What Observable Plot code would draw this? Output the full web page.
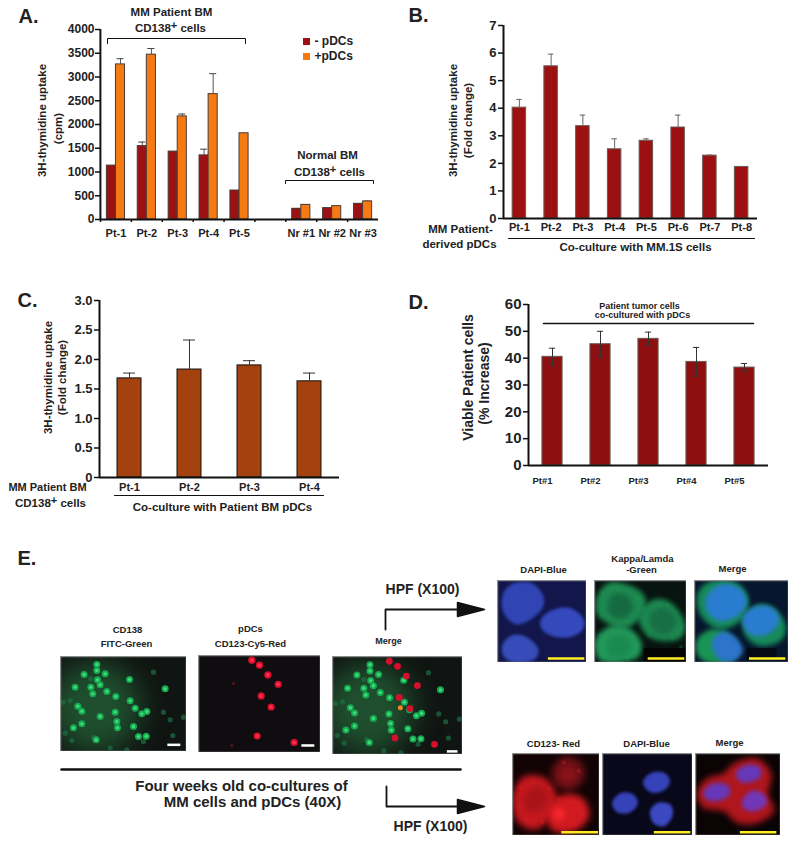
<!DOCTYPE html>
<html><head><meta charset="utf-8">
<script src="https://cdn.jsdelivr.net/npm/d3@7"></script>
<script src="https://cdn.jsdelivr.net/npm/@observablehq/plot@0.6"></script>
<style>
html,body{margin:0;padding:0;background:#fff}
#page{position:relative;width:799px;height:845px;overflow:hidden;font-family:"Liberation Sans",Arial,sans-serif}
</style></head><body><div id="page"></div>
<script>
// ---------- Panel A ----------
const catsA = ["Pt-1","Pt-2","Pt-3","Pt-4","Pt-5"," ","Nr #1","Nr #2","Nr #3"];
const seriesA = ["- pDCs","+pDCs"];
const minusA = [1135,1545,1430,1350,610,null,225,240,330];
const plusA  = [3265,3470,2170,2640,1815,null,308,282,380];
const minusHiA = [1135,1630,1430,1480,610,null,232,240,335];
const plusHiA  = [3385,3600,2220,3070,1815,null,312,285,388];
const ticksA = [0,500,1000,1500,2000,2500,3000,3500,4000];
// ---------- Panel B ----------
const catsB = ["Pt-1","Pt-2","Pt-3","Pt-4","Pt-5","Pt-6","Pt-7","Pt-8"];
const valuesB = [4.02,5.52,3.35,2.51,2.82,3.3,2.28,1.87];
const hiB = [4.32,5.96,3.75,2.89,2.89,3.75,2.3,1.88];
const ticksB = [0,1,2,3,4,5,6,7];
// ---------- Panel C ----------
const catsC = ["Pt-1","Pt-2","Pt-3","Pt-4"];
const valuesC = [1.68,1.83,1.9,1.63];
const hiC = [1.77,2.33,1.98,1.77];
const ticksC = [0,0.5,1,1.5,2,2.5,3];
// ---------- Panel D ----------
const catsD = ["Pt#1","Pt#2","Pt#3","Pt#4","Pt#5"];
const valuesD = [40.5,45.2,47.2,38.6,36.5];
const hiD = [43.7,50,49.7,44,38];
const loD = [37.5,40.5,44.8,33.3,35];
const ticksD = [0,10,20,30,40,50,60];
// ---------- Panel E: cells (image coordinates) ----------
const greenCells = [[290,372],[252,402],[290,390],[315,400],[292,418],[300,433],[225,440],[272,440],[278,460],[320,453],[347,468],[388,417],[390,481],[405,503],[233,497],[245,512],[300,528],[345,515],[350,543],[352,562],[400,558],[220,562],[245,550],[288,598],[425,520],[440,513],[415,588],[438,587],[495,445]];
const faintCells = [[460,395],[490,515],[510,538],[210,480],[195,578],[215,600],[330,622],[380,628],[430,603],[280,590],[190,485],[272,415],[518,585],[550,530]];
const redCells = [[755,360],[778,375],[803,404],[834,432],[783,467],[813,500],[771,587],[882,606]];
const faintRed = [[700,430],[695,615]];
const topN1 = [[70,160],[100,132],[150,130],[185,165],[185,200],[150,235],[105,250],[70,215]];
const topN2 = [[182,240],[215,212],[265,205],[305,235],[305,265],[270,288],[215,285],[185,265]];
const topN3 = [[70,310],[100,286],[135,292],[170,325],[165,352],[125,365],[85,360],[68,340]];
const kapC1 = [[350,170],[385,130],[440,135],[490,170],[485,220],[440,260],[385,250],[350,220]];
const kapC2 = [[475,225],[520,180],[570,190],[610,250],[600,290],[540,300],[495,280]];
const kapC3 = [[350,290],[395,258],[450,270],[480,310],[470,350],[410,365],[360,360],[345,330]];
const kapDark = [[395,165],[440,170],[455,205],[420,235],[385,215]];
const kapDark2 = [[510,225],[550,205],[585,240],[560,280],[520,270]];
const kapDark3 = [[385,300],[425,285],[450,320],[420,350],[385,340]];
const kapSpeck = [[365,160],[410,145],[470,175],[365,225],[445,245],[490,205],[560,195],[600,265],[575,295],[505,285],[360,285],[455,290],[370,345],[440,355],[620,300],[600,320]];
const mrgC1 = [[650,170],[680,130],[760,125],[800,170],[790,230],[720,265],[665,230]];
const mrgC2 = [[790,230],[840,195],[890,215],[915,260],[900,300],[840,315],[800,290]];
const mrgC3 = [[650,300],[690,270],[740,280],[770,330],[750,360],[680,365],[650,340]];
const mrgN1 = [[680,170],[720,135],[775,145],[797,185],[770,225],[715,240],[680,210]];
const mrgN2 = [[790,230],[830,200],[875,205],[895,240],[870,275],[825,285],[795,265]];
const mrgN3 = [[697,300],[725,278],[760,290],[785,330],[760,360],[720,358],[700,330]];
const redR1 = [[100,760],[130,710],[190,712],[225,760],[215,820],[165,865],[115,845],[100,810]];
const redR2 = [[205,800],[245,765],[300,770],[325,815],[305,855],[250,875],[210,860]];
const redR3 = [[215,690],[250,650],[300,665],[310,710],[275,745],[230,735]];
const redCore3 = [[240,695],[265,680],[285,700],[265,720],[245,715]];
const redDark = [[140,760],[170,735],[200,760],[190,800],[150,810],[130,790]];
const redSpeck = [[120,740],[160,725],[205,745],[115,800],[140,835],[185,845],[270,785],[305,820],[285,850],[235,775],[250,665],[295,690]];
const lowN1 = [[490,725],[515,698],[555,700],[567,725],[545,750],[510,752]];
const lowN2 = [[397,785],[425,758],[460,765],[470,790],[445,815],[410,812]];
const lowN3 = [[512,810],[535,788],[570,795],[575,825],[550,855],[520,845]];
const lowRed = [[650,760],[680,715],[730,700],[760,670],[830,655],[870,700],[860,760],[878,810],[830,845],[770,845],[730,810],[670,800]];
const lowM1 = [[768,697],[795,675],[835,680],[838,705],[810,722],[778,720]];
const lowM2 = [[670,755],[700,730],[740,735],[745,760],[715,778],[680,775]];
const lowM3 = [[785,785],[815,752],[850,765],[855,790],[820,810],[795,805]];

// ---------- helpers ----------
const FONT = '"Liberation Sans",Arial,sans-serif';
const INK = "#222";
const page = document.getElementById("page");
function mount(svg, left, top){
  svg.style.position="absolute"; svg.style.left=left+"px"; svg.style.top=top+"px";
  svg.style.maxWidth="none"; svg.style.background="transparent"; svg.style.fontFamily=FONT;
  page.appendChild(svg);
}
const fmtInt = d=>String(d);
const fmtOne = d=>d===0?"0":d.toFixed(1);

// ---- Panel A: grouped bars ----
const rowsA = catsA.flatMap((c,i)=> minusA[i]==null?[]:[
  {cat:c,s:seriesA[0],v:minusA[i],hi:minusHiA[i]},
  {cat:c,s:seriesA[1],v:plusA[i],hi:plusHiA[i]}]);
const errA = rowsA.filter(r=>r.hi-r.v>3);
mount(Plot.plot({
  width:338,height:221,marginLeft:40,marginRight:20,marginTop:10,marginBottom:21,
  fx:{domain:catsA,padding:0,round:false,label:null},
  x:{domain:seriesA,paddingInner:0,paddingOuter:0.7,round:false,axis:null},
  y:{domain:[0,4000],label:null},
  color:{domain:seriesA,range:["#9c1214","#f67a14"]},
  marks:[
    Plot.ruleX(errA,{fx:"cat",x:"s",y1:"v",y2:"hi",stroke:"#555",strokeWidth:1}),
    Plot.tickY(errA,{fx:"cat",x:"s",y:"hi",stroke:"#444",strokeWidth:1,insetLeft:1,insetRight:1}),
    Plot.barY(rowsA,{fx:"cat",x:"s",y:"v",fill:"s",stroke:"#4a3a34",strokeWidth:1}),
    Plot.ruleY(catsA,{fx:d=>d,y:()=>0,stroke:"#111",strokeWidth:2}),
    Plot.axisFx({anchor:"bottom",text:null,tickSize:3,dx:-15.45,stroke:"#111",strokeWidth:1.5}),
    Plot.axisFx({anchor:"bottom",tickSize:0,tickPadding:10,fontSize:11,fontWeight:"bold",fill:INK,label:null}),
    Plot.ruleX(["Pt-1"],{fx:d=>d,x:()=>seriesA[0],y1:0,y2:4000,dx:-11,stroke:"#111",strokeWidth:2}),
    Plot.axisY({facetAnchor:"left",ticks:ticksA,tickSize:5,tickPadding:1,fontSize:12,fontWeight:"bold",fill:INK,tickFormat:fmtInt,label:null,stroke:"#111",strokeWidth:1.5})
  ]
}),60,19);

// ---- Panels B, C, D: simple bars ----
function bars(o){
  const rows=o.cats.map((c,i)=>({c,v:o.values[i],hi:o.hi[i],lo:o.lo?o.lo[i]:o.values[i]}));
  const err=rows.filter(r=>r.hi-r.v>0.02);
  return Plot.plot({
    width:o.w+o.ml+20,height:o.h+10+o.mb,marginLeft:o.ml,marginRight:20,marginTop:10,marginBottom:o.mb,
    x:{domain:o.cats,paddingInner:o.padding,paddingOuter:o.padding/2,round:false,label:null},
    y:{domain:o.domain,label:null},
    marks:[
      Plot.barY(rows,{x:"c",y:"v",fill:o.fill,stroke:o.stroke,strokeWidth:1}),
      Plot.ruleX(err,{x:"c",y1:"lo",y2:"hi",stroke:o.errStroke,strokeWidth:1}),
      Plot.tickY(err,{x:"c",y:"hi",stroke:o.errStroke,strokeWidth:1,insetLeft:o.cap,insetRight:o.cap}),
      o.lo?Plot.tickY(err,{x:"c",y:"lo",stroke:o.errStroke,strokeWidth:1,insetLeft:o.cap,insetRight:o.cap}):null,
      Plot.ruleY([o.domain[0]],{stroke:"#111",strokeWidth:2}),
      Plot.ruleX(o.cats.slice(0,1),{x:d=>d,y1:o.domain[0],y2:o.domain[1],dx:-(o.w/o.cats.length/2),stroke:"#111",strokeWidth:2}),
      Plot.axisX({tickSize:0,tickPadding:o.labelPad,fontSize:o.xFont,fontWeight:"bold",fill:INK,label:null,dx:o.labelDx||0}),
      Plot.axisY({ticks:o.ticks,tickSize:5,tickPadding:2,fontSize:o.yFont,fontWeight:"bold",fill:INK,tickFormat:o.fmt,label:null,stroke:"#111",strokeWidth:1.5})
    ]
  });
}
mount(bars({cats:catsB,values:valuesB,hi:hiB,domain:[0,7],ticks:ticksB,fmt:fmtInt,w:254,h:193,ml:40,mb:22,padding:0.575,fill:"#9c1012",stroke:"#6a5a55",errStroke:"#666",cap:4,xFont:11,yFont:13,labelPad:5}),463,15);
mount(bars({cats:catsC,values:valuesC,hi:hiC,domain:[0,3],ticks:ticksC,fmt:fmtOne,w:240,h:177,ml:40,mb:20,padding:0.6,fill:"#a3420f",stroke:"#111",errStroke:"#333",cap:6,xFont:11,yFont:13,labelPad:6}),59,290);
mount(bars({cats:catsD,values:valuesD,hi:hiD,lo:loD,domain:[0,60],ticks:ticksD,fmt:fmtInt,w:240,h:161,ml:40,mb:24,padding:0.58,fill:"#8e0f10",stroke:"#6a5a55",errStroke:"#333",cap:7,xFont:9.5,yFont:15,labelPad:12,labelDx:-10}),488,294);

// ---- Panel E micrographs ----
function blob(pts,fill,blur,op){return Plot.line(pts,{x:d=>d[0],y:d=>d[1],fill,stroke:fill,curve:"catmull-rom-closed",imageFilter:`blur(${blur}px)`,fillOpacity:op==null?1:op,strokeOpacity:op==null?1:op});}
function micro(o){
  mount(Plot.plot({
    width:o.w,height:o.h,margin:0,
    x:{domain:o.xd,axis:null},y:{domain:o.yd,axis:null,reverse:true},
    marks:[Plot.frame({fill:o.bg,stroke:"none"}),...o.marks,Plot.frame({stroke:"#8a8a8a",strokeWidth:1.5})]
  }),o.l,o.t);
}
function cells(pts,fill,r,blur,op){return Plot.dot(pts,{x:d=>d[0],y:d=>d[1],r,fill,fillOpacity:op==null?1:op,imageFilter:`blur(${blur}px)`});}
function haze(pt,r,fill){return Plot.dot([pt],{x:d=>d[0],y:d=>d[1],r,fill,imageFilter:"blur(14px)",clip:"frame"});}
function scaleBar(x1,x2,y,stroke,w){return Plot.ruleY([y],{x1:()=>x1,x2:()=>x2,y:d=>d,stroke,strokeWidth:w});}
const fieldX=[181,559],fieldY=[348,633],redX=[595,961],redY=[346,636];
const greenField=[haze([285,500],46,"#1f4f2e"),cells(faintCells,"#1c6e42",2.6,0.5,0.7),cells(greenCells,"#17a851",3.5,0.5),cells(greenCells,"#3fdc7a",1.7,0.7)];
micro({l:60,t:656,w:126,h:95,xd:fieldX,yd:fieldY,bg:"#101412",marks:[...greenField,scaleBar(503,542,613,"#fff",2.5)]});
micro({l:198,t:655,w:122,h:97,xd:redX,yd:redY,bg:"#0f0d10",marks:[cells(faintRed,"#5a1020",1.5,0.6),cells(redCells,"#d80f2c",3.6,0.5),cells(redCells,"#ff3050",1.8,0.7),scaleBar(905,944,615,"#fff",2.5)]});
// merge: both channels, each with its own image coordinates
const toMerge = p=>[fieldX[0]+(p[0]-redX[0])/(redX[1]-redX[0])*(fieldX[1]-fieldX[0]), fieldY[0]+(p[1]-redY[0])/(redY[1]-redY[0])*(fieldY[1]-fieldY[0])];
micro({l:332,t:656,w:130,h:98,xd:fieldX,yd:fieldY,bg:"#101412",marks:[...greenField,cells(redCells.map(toMerge),"#d80f2c",3.4,0.5),cells([[786,498]].map(toMerge),"#e88a20",2.5,0.4),scaleBar(515,546,624,"#fff",2.5)]});

micro({l:497,t:580,w:89,h:82,xd:[51,317],yd:[121,367],bg:"#12164a",marks:[blob(topN1,"#3044b4",1.8),blob(topN2,"#3449bc",1.8),blob(topN3,"#364cb8",1.8),scaleBar(203,312,355,"#ffee22",2.5)]});
micro({l:594,t:580,w:92,h:82,xd:[341,617],yd:[121,367],bg:"#081410",marks:[blob(kapC1,"#1d8a50",2.5),blob(kapC2,"#1b8850",2.5),blob(kapC3,"#21985a",2.5),blob(kapDark,"#166a42",2.5),blob(kapDark2,"#186f45",2.5),blob(kapDark3,"#1b8a50",2.5),cells(kapSpeck,"#27a060",1,0.8),Plot.rect([0],{x1:()=>490,x2:()=>617,y1:()=>325,y2:()=>367,fill:"#050505"}),scaleBar(502,612,355,"#ffee22",2.5)]});
micro({l:694,t:580,w:94,h:82,xd:[641,925],yd:[121,367],bg:"#06162c",marks:[blob(mrgC1,"#168a5a",2.5),blob(mrgC2,"#168a5a",2.5),blob(mrgC3,"#1a9455",2.5),blob(mrgN1,"#2a7cd0",2),blob(mrgN2,"#2a7cd0",2),blob(mrgN3,"#2c74cc",2),Plot.rect([0],{x1:()=>800,x2:()=>890,y1:()=>325,y2:()=>360,fill:"#040a14"}),scaleBar(807,917,355,"#ffee22",2.5)]});

micro({l:512,t:753,w:87,h:82,xd:[96,357],yd:[638,885],bg:"#120404",marks:[blob(redR3,"#6a1016",3),blob(redCore3,"#8e1419",3),blob(redR1,"#c4181e",3),blob(redR2,"#d01a20",3),blob(redDark,"#a8141a",3),cells(redSpeck,"#dd2226",1.2,0.9),cells([[235,820]],"#ff2a30",6,3),scaleBar(244,354,875,"#ffee22",2.5)]});
micro({l:602,t:753,w:90,h:82,xd:[366,637],yd:[638,885],bg:"#08081a",marks:[blob(lowN1,"#3642b8",1.8),blob(lowN2,"#3642b8",1.8),blob(lowN3,"#3c48c0",1.8),scaleBar(522,632,875,"#ffee22",2.5)]});
micro({l:695,t:753,w:85,h:82,xd:[645,899],yd:[638,885],bg:"#0a0404",marks:[blob(lowRed,"#b0161c",3),blob(lowM1,"#6438b8",2),blob(lowM2,"#6438b8",2),blob(lowM3,"#7038b8",2),scaleBar(779,888,875,"#ffee22",2.5)]});

// ---- Annotation layer in page coordinates: labels, brackets, rules, arrows ----
const marks=[];
function T(s,x,y,size,o={}){marks.push(Plot.text([s],{text:d=>d,x:()=>x,y:()=>y,fontSize:size,fontWeight:o.weight||"bold",textAnchor:o.anchor||"middle",rotate:o.rotate||0,fill:o.fill||INK,fontFamily:FONT}));}
function L(pts,w,stroke="#111"){marks.push(Plot.line(pts,{x:d=>d[0],y:d=>d[1],stroke,strokeWidth:w,curve:"linear"}));}
function head(pts){marks.push(Plot.line(pts,{x:d=>d[0],y:d=>d[1],fill:"#111",stroke:"#111",curve:"linear-closed"}));}
function swatch(x1,x2,y1,y2,fill){marks.push(Plot.rect([0],{x1:()=>x1,x2:()=>x2,y1:()=>y1,y2:()=>y2,fill}));}

T("A.",18,16,20,{anchor:"start"}); T("B.",408,15,20,{anchor:"start"}); T("C.",17,300,20,{anchor:"start"}); T("D.",408,302,20,{anchor:"start"}); T("E.",17,558,20,{anchor:"start"});
// A
T("MM Patient BM",171,12,11.5); T("CD138⁺ cells",170,28,11.5);
L([[107,43],[107,38],[245,38],[245,43]],1);
T("Normal BM",327,155,11.5); T("CD138⁺ cells",329,172,11.5);
L([[285,183],[285,180],[373,180],[373,183]],1);
swatch(303,310,38,45,"#9c1214"); swatch(303,310,53,60,"#f67a14");
T("- pDCs",314,41,12,{anchor:"start"}); T("+pDCs",314,56,12,{anchor:"start"});
T("3H-thymidine uptake",42,120,11.5,{rotate:-90}); T("(cpm)",58,128,11.5,{rotate:-90});
// B
T("3H-thymidine uptake",453,120,11.5,{rotate:-90}); T("(Fold change)",468,120,11.5,{rotate:-90});
T("MM Patient-",460,229,11.5); T("derived pDCs",459,244,11.5);
L([[508,238],[754,238]],1.2);
T("Co-culture with MM.1S cells",635,247,11.5);
// C
T("3H-thymidine uptake",48,377,11.5,{rotate:-90}); T("(Fold change)",62,377,11.5,{rotate:-90});
T("MM Patient BM",47,487,11); T("CD138⁺ cells",50,503,11.5);
L([[114,495],[323,495]],1.2);
T("Co-culture with Patient BM pDCs",222,507,11.5);
// D
T("Viable Patient cells",468,377,14,{rotate:-90}); T("(% Increase)",484,383,14,{rotate:-90});
T("Patient tumor cells",639,306,9); T("co-cultured with pDCs",642,315,9);
L([[543,323],[753,323]],1.5);
// E
T("CD138",127,629,9.5); T("FITC-Green",126,643,9.5);
T("pDCs",250,628,9.5); T("CD123-Cy5-Red",250,643,9.5); T("Merge",388,641,9);
L([[61,769],[460,769]],2.5);
T("Four weeks old co-cultures of",241,786,15); T("MM cells and pDCs (40X)",252,802,15);
T("HPF (X100)",422,589,14); T("HPF (X100)",430,826,14);
L([[385,629],[385,609],[460,609]],1.8); head([[457,602],[457,616],[484,609]]);
L([[386,786],[386,806],[460,806]],1.8); head([[457,799],[457,813],[484,806]]);
T("DAPI-Blue",543,569,9.5); T("Kappa/Lamda",642,558,9.5); T("-Green",641,569,9.5); T("Merge",732,568,9.5);
T("CD123- Red",553,743,9.5); T("DAPI-Blue",646,743,9.5); T("Merge",729,742,9.5);

const overlay = Plot.plot({width:799,height:845,margin:0,x:{domain:[0,799],axis:null},y:{domain:[0,845],axis:null,range:[0,845]},marks});
// the raised plus of "CD138+ cells" as a real superscript inside the same text element
d3.select(overlay).selectAll("text").each(function(){
  const node=d3.select(this), s=node.text();
  if(!s.includes("⁺")) return;
  const [a,b]=s.split("⁺");
  const host=node.select("tspan").empty()?node:node.select("tspan");
  host.text(a);
  host.append("tspan").attr("dy",-3).attr("font-size",11).text("+");
  host.append("tspan").attr("dy",3).text(b);
});
mount(overlay,0,0);
</script></body></html>
